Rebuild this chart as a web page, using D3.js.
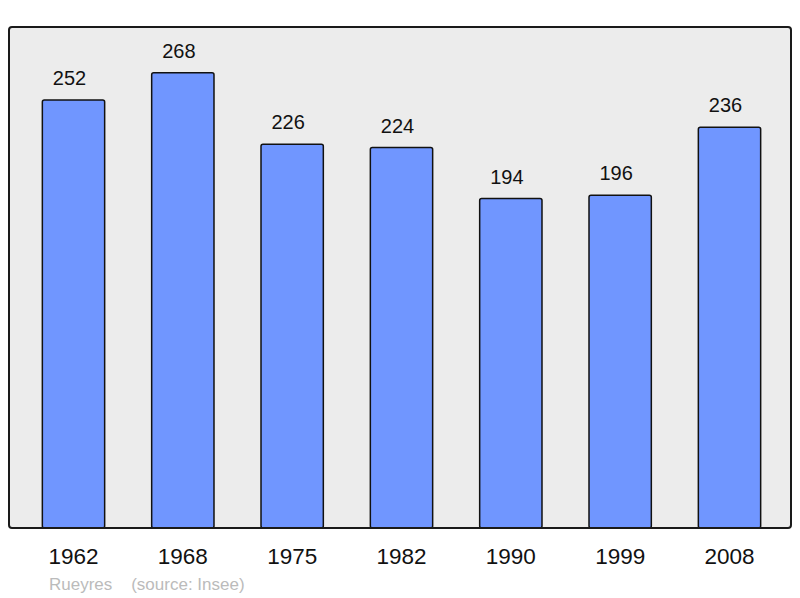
<!DOCTYPE html>
<html lang="en">
<head>
    <meta charset="UTF-8">
    <title>Rueyres population</title>
    <script src="https://d3js.org/d3.v7.min.js"></script>
    <style>
        body { margin: 0; padding: 0; background: #fff; }
        svg text { font-family: "Liberation Sans", Arial, sans-serif; }
    </style>
</head>
<body>
    <script>
        const years = ["1962", "1968", "1975", "1982", "1990", "1999", "2008"];
        const population = [252, 268, 226, 224, 194, 196, 236];
        const commune = "Rueyres";
        const source = "(source: Insee)";

        const width = 800, height = 598;
        const box = { left: 9, top: 27, right: 791, bottom: 528 };

        const svg = d3.select("body")
            .append("svg")
            .attr("width", width)
            .attr("height", height);

        const x = d3.scaleBand()
            .domain(years)
            .range([12, 791])
            .paddingInner(0.43)
            .paddingOuter(0.2775);

        const y = d3.scaleLinear()
            .domain([0, 295])
            .range([box.bottom, box.top]);

        // plot background
        svg.append("rect")
            .attr("x", box.left)
            .attr("y", box.top)
            .attr("width", box.right - box.left)
            .attr("height", box.bottom - box.top)
            .attr("rx", 3)
            .attr("fill", "#ececec")
            .attr("stroke", "none");

        const data = years.map((yr, i) => ({ year: yr, value: population[i] }));

        svg.selectAll(".bar")
            .data(data)
            .enter()
            .append("rect")
            .attr("class", "bar")
            .attr("x", d => x(d.year))
            .attr("y", d => y(d.value))
            .attr("width", x.bandwidth())
            .attr("height", d => y(0) - y(d.value))
            .attr("rx", 2)
            .attr("fill", "#7096ff")
            .attr("stroke", "#111")
            .attr("stroke-width", 1.5);

        // frame on top
        svg.append("rect")
            .attr("x", box.left)
            .attr("y", box.top)
            .attr("width", box.right - box.left)
            .attr("height", box.bottom - box.top)
            .attr("rx", 3)
            .attr("fill", "none")
            .attr("stroke", "#1a1a1a")
            .attr("stroke-width", 2);

        // value labels sit a little left of the bar centre in the original
        svg.selectAll(".value")
            .data(data)
            .enter()
            .append("text")
            .attr("class", "value")
            .attr("x", d => x(d.year) + x.bandwidth() / 2 - 4)
            .attr("y", d => y(d.value) - 15)
            .attr("text-anchor", "middle")
            .attr("font-size", 20)
            .attr("fill", "#111")
            .text(d => d.value);

        const xAxis = svg.append("g")
            .attr("transform", `translate(0,${box.bottom})`)
            .call(d3.axisBottom(x).tickSize(0).tickPadding(0));
        xAxis.select(".domain").remove();
        xAxis.selectAll("text")
            .attr("y", 36)
            .attr("dy", 0)
            .attr("font-size", 22.5)
            .attr("font-family", "'Liberation Sans', Arial, sans-serif")
            .attr("fill", "#111");

        svg.append("text")
            .attr("x", 49)
            .attr("y", 590)
            .attr("font-size", 17)
            .attr("fill", "#bbbbbb")
            .attr("xml:space", "preserve")
            .text(commune + "    " + source);
    </script>
</body>
</html>
